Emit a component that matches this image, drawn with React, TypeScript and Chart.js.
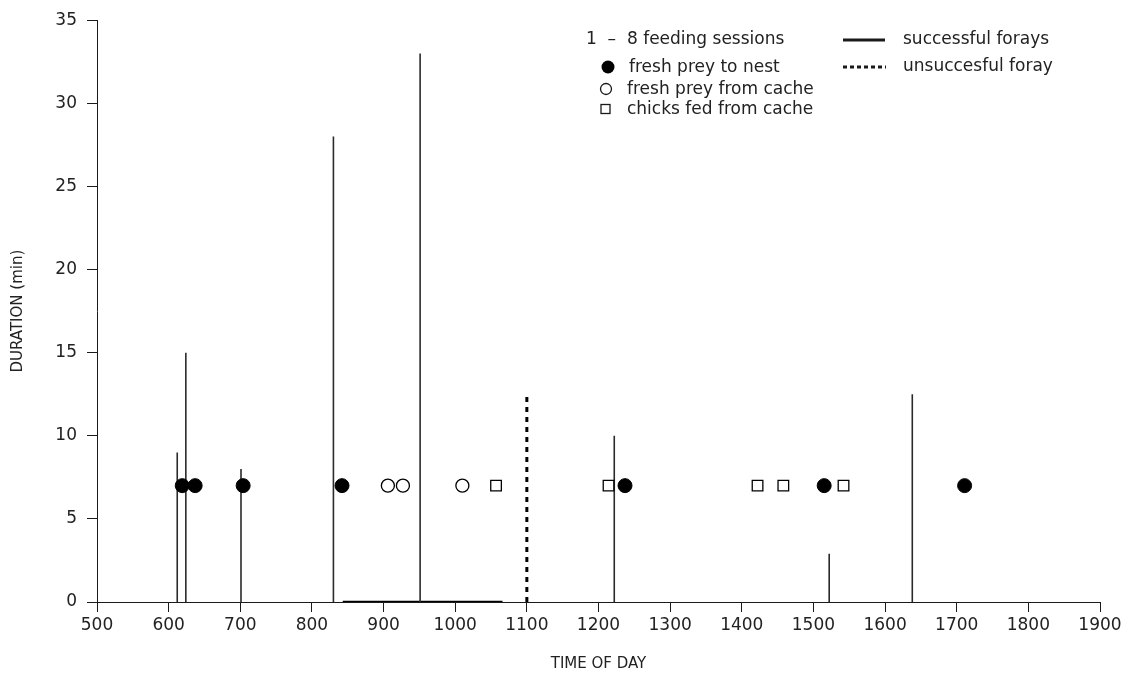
import React, { useEffect, useRef } from "react";
import { Chart, registerables } from "chart.js";

Chart.register(...registerables);

// ---- data ----
const freshNestTimes = [619, 637, 704, 842, 1237, 1515, 1711];
const freshNestDur = [7, 7, 7, 7, 7, 7, 7];
const cacheFreshTimes = [906, 927, 1010];
const cacheFreshDur = [7, 7, 7];
const cacheFedTimes = [1057, 1214, 1422, 1458, 1542];
const cacheFedDur = [7, 7, 7, 7, 7];

const successTimes = [612, 624, 701, 830, 951, 1222, 1522, 1638];
const successDurations = [9, 15, 8, 28, 33, 10, 2.9, 12.5];
const failTimes = [1100];
const failDurations = [12.6];
const baselineSpan = [843, 1066];

const xTickValues = [500, 600, 700, 800, 900, 1000, 1100, 1200, 1300, 1400, 1500, 1600, 1700, 1800, 1900];
const yTickValues = [0, 5, 10, 15, 20, 25, 30, 35];

const legendTitle = "1  \u2013  8 feeding sessions";
const legendSymbols = ["fresh prey to nest", "fresh prey from cache", "chicks fed from cache"];
const legendLines = ["successful forays", "unsuccesful foray"];

const FONT = "'DejaVu Sans', sans-serif";
const INK = "#1a1a1a";
const TEXT = "#222";

function stems(times: number[], durs: number[]) {
  const out: { x: number; y: number | null }[] = [];
  times.forEach((t, i) => {
    out.push({ x: t, y: 0 }, { x: t, y: durs[i] }, { x: t, y: null });
  });
  return out;
}

const legendPlugin = {
  id: "customLegend",
  afterDraw(chart: any) {
    const ctx = chart.ctx as CanvasRenderingContext2D;
    ctx.save();
    ctx.fillStyle = TEXT;
    ctx.strokeStyle = INK;
    ctx.font = `17px ${FONT}`;
    ctx.textBaseline = "middle";
    ctx.textAlign = "left";
    // left block
    ctx.fillText(legendTitle, 586, 40);
    const rows = [67, 89, 109];
    ctx.fillStyle = "#000";
    ctx.beginPath();
    ctx.arc(608, rows[0], 6.5, 0, Math.PI * 2);
    ctx.fill();
    ctx.lineWidth = 1.3;
    ctx.beginPath();
    ctx.arc(606, rows[1], 5.5, 0, Math.PI * 2);
    ctx.stroke();
    ctx.strokeRect(601, rows[2] - 4.5, 9, 9);
    ctx.fillStyle = TEXT;
    ctx.fillText(legendSymbols[0], 629, rows[0] + 1);
    ctx.fillText(legendSymbols[1], 627, rows[1] + 1);
    ctx.fillText(legendSymbols[2], 627, rows[2] + 1);
    // right block
    ctx.lineWidth = 3;
    ctx.beginPath();
    ctx.moveTo(843, 40);
    ctx.lineTo(885, 40);
    ctx.stroke();
    ctx.setLineDash([4, 3]);
    ctx.beginPath();
    ctx.moveTo(843, 67);
    ctx.lineTo(886, 67);
    ctx.stroke();
    ctx.setLineDash([]);
    ctx.fillText(legendLines[0], 903, 40);
    ctx.fillText(legendLines[1], 903, 67);
    ctx.restore();
  },
};

export default function App() {
  const ref = useRef<HTMLCanvasElement | null>(null);

  useEffect(() => {
    document.body.style.margin = "0";
    if (!ref.current) return;
    Chart.defaults.font.family = FONT;
    const chart = new Chart(ref.current, {
      type: "scatter",
      data: {
        datasets: [
          {
            label: "fresh prey to nest",
            data: freshNestTimes.map((x, i) => ({ x, y: freshNestDur[i] })),
            pointStyle: "circle",
            pointRadius: 7,
            backgroundColor: "#000",
            borderColor: "#000",
            borderWidth: 1,
          },
          {
            label: "fresh prey from cache",
            data: cacheFreshTimes.map((x, i) => ({ x, y: cacheFreshDur[i] })),
            pointStyle: "circle",
            pointRadius: 6.5,
            backgroundColor: "#fff",
            borderColor: "#000",
            borderWidth: 1.3,
          },
          {
            label: "chicks fed from cache",
            data: cacheFedTimes.map((x, i) => ({ x, y: cacheFedDur[i] })),
            pointStyle: "rect",
            pointRadius: 7.5,
            backgroundColor: "#fff",
            borderColor: "#000",
            borderWidth: 1.3,
          },
          {
            type: "line",
            label: "successful forays",
            data: stems(successTimes, successDurations),
            borderColor: "#2a2a2a",
            borderWidth: 1.6,
            pointRadius: 0,
            spanGaps: false,
            fill: false,
          },
          {
            type: "line",
            label: "unsuccessful foray",
            data: stems(failTimes, failDurations),
            borderColor: "#000",
            borderWidth: 3,
            borderDash: [5, 5],
            pointRadius: 0,
            spanGaps: false,
            fill: false,
          },
          {
            type: "line",
            label: "baseline span",
            data: baselineSpan.map((x) => ({ x, y: 0 })),
            borderColor: "#000",
            borderWidth: 2.5,
            pointRadius: 0,
            fill: false,
          },
        ] as any,
      },
      options: {
        animation: false,
        responsive: false,
        events: [],
        layout: { padding: { top: 19, right: 36, left: 0, bottom: 0 } },
        plugins: { legend: { display: false }, tooltip: { enabled: false } },
        scales: {
          x: {
            type: "linear",
            min: 500,
            max: 1900,
            afterBuildTicks: (s: any) => {
              s.ticks = xTickValues.map((v) => ({ value: v }));
            },
            afterFit: (s: any) => {
              s.height = 85;
            },
            grid: { drawOnChartArea: false, tickLength: 10, color: INK, lineWidth: 1 },
            border: { display: true, color: INK, width: 1 },
            ticks: {
              color: TEXT,
              padding: 3,
              maxRotation: 0,
              autoSkip: false,
              font: { size: 17, family: FONT },
              callback: (v: any) => String(v),
            },
            title: {
              display: true,
              text: "TIME OF DAY",
              color: TEXT,
              font: { size: 15, family: FONT },
              padding: { top: 0, bottom: 14 },
            },
          },
          y: {
            type: "linear",
            min: 0,
            max: 35,
            afterBuildTicks: (s: any) => {
              s.ticks = yTickValues.map((v) => ({ value: v }));
            },
            afterFit: (s: any) => {
              s.width = 97;
            },
            grid: { drawOnChartArea: false, tickLength: 10, color: INK, lineWidth: 1 },
            border: { display: true, color: INK, width: 1 },
            ticks: {
              color: TEXT,
              padding: 10,
              autoSkip: false,
              font: { size: 17, family: FONT },
              callback: (v: any) => String(v),
            },
            title: {
              display: true,
              text: "DURATION (min)",
              color: TEXT,
              font: { size: 15, family: FONT },
              padding: { top: 9, bottom: 0 },
            },
          },
        },
      } as any,
      plugins: [legendPlugin],
    });
    return () => chart.destroy();
  }, []);

  return (
    <div style={{ width: 1136, height: 687 }}>
      <canvas ref={ref} width={1136} height={687} style={{ display: "block" }} />
    </div>
  );
}
